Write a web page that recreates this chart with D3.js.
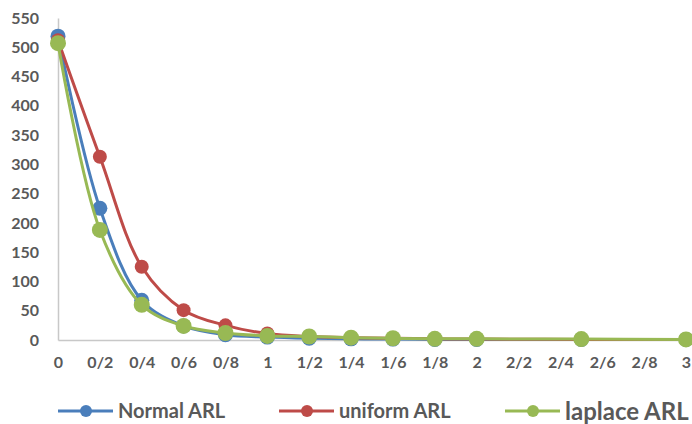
<!DOCTYPE html>
<html>
<head>
<meta charset="utf-8">
<script src="https://cdn.jsdelivr.net/npm/d3@7"></script>
<style>
  body { margin: 0; background: #fff; }
  text { font-family: Lato, "Open Sans", sans-serif; font-weight: bold; }
</style>
</head>
<body>
<div id="chart"></div>
<script>
// data
const xValues = [0, 0.2, 0.4, 0.6, 0.8, 1, 1.2, 1.4, 1.6, 1.8, 2, 2.5, 3];
const normalARL = [519, 225, 68, 24, 9, 5, 3, 2, 1.5, 1, 1, 1, 1];
const uniformARL = [512, 313, 125, 51, 25, 11, 6, 4, 3, 2, 1.5, 1, 1];
const laplaceARL = [507, 188, 60, 24, 12, 7, 6, 4, 3, 2, 2, 1.5, 1];
const xTicks = [0, 0.2, 0.4, 0.6, 0.8, 1, 1.2, 1.4, 1.6, 1.8, 2, 2.2, 2.4, 2.6, 2.8, 3];
const xTickLabels = ["0", "0/2", "0/4", "0/6", "0/8", "1", "1/2", "1/4", "1/6", "1/8", "2", "2/2", "2/4", "2/6", "2/8", "3"];
const yTicks = [0, 50, 100, 150, 200, 250, 300, 350, 400, 450, 500, 550];
const seriesNames = ["Normal ARL", "uniform ARL", "laplace ARL"];

const width = 692, height = 424;
const svg = d3.select("#chart").append("svg")
    .attr("width", width)
    .attr("height", height);

const x = d3.scaleLinear().domain([0, 3]).range([58, 686]);
const y = d3.scaleLinear().domain([0, 550]).range([340, 18]);

// axes
const yAxis = svg.append("g")
    .attr("transform", `translate(${x(0)},0)`)
    .call(d3.axisLeft(y).tickValues(yTicks).tickSize(0).tickPadding(19));
yAxis.select(".domain").attr("stroke", "#c8c8c8").attr("stroke-width", 1.5);
yAxis.selectAll("text").attr("fill", "#595959").style("font-size", "16px");

const xAxis = svg.append("g")
    .attr("transform", `translate(0,${y(0)})`)
    .call(d3.axisBottom(x).tickValues(xTicks).tickSize(0).tickPadding(17)
        .tickFormat((d, i) => xTickLabels[i]));
xAxis.select(".domain").attr("stroke", "#c8c8c8").attr("stroke-width", 1.5);
xAxis.selectAll("text").attr("fill", "#595959").style("font-size", "16px");

const series = [
    {name: seriesNames[0], values: normalARL, color: "#4a7ebb", r: 7.5},
    {name: seriesNames[1], values: uniformARL, color: "#be4b48", r: 7},
    {name: seriesNames[2], values: laplaceARL, color: "#98b954", r: 8}
];

const line = d3.line()
    .x((d, i) => x(xValues[i]))
    .y(d => y(d))
    .curve(d3.curveCatmullRom.alpha(0.5));

series.forEach(s => {
    svg.append("path")
        .datum(s.values)
        .attr("fill", "none")
        .attr("stroke", s.color)
        .attr("stroke-width", 3)
        .attr("d", line);
    svg.append("g").selectAll("circle")
        .data(s.values)
        .join("circle")
        .attr("cx", (d, i) => x(xValues[i]))
        .attr("cy", d => y(d))
        .attr("r", s.r)
        .attr("fill", s.color);
});

// legend
const legendX = [58, 279, 505];
const legendSize = [20, 20, 24];
const legend = svg.append("g").selectAll("g")
    .data(series)
    .join("g")
    .attr("transform", (d, i) => `translate(${legendX[i]},411)`);
legend.append("line")
    .attr("x1", 0).attr("x2", 55)
    .attr("stroke", d => d.color)
    .attr("stroke-width", 3);
legend.append("circle")
    .attr("cx", 28)
    .attr("r", 6)
    .attr("fill", d => d.color);
legend.append("text")
    .attr("x", 60)
    .attr("dy", "0.36em")
    .attr("fill", "#595959")
    .style("font-size", (d, i) => legendSize[i] + "px")
    .text(d => d.name);
</script>
</body>
</html>
